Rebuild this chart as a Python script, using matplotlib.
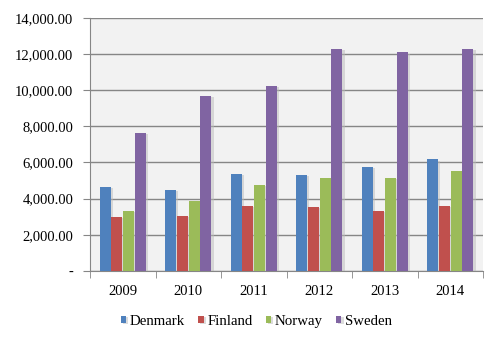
import numpy as np
import matplotlib
matplotlib.use('Agg')
import matplotlib.pyplot as plt
from matplotlib.ticker import FuncFormatter, FixedLocator
import matplotlib.patheffects as pe

YEARS = ['2009', '2010', '2011', '2012', '2013', '2014']
COUNTRIES = ['Denmark', 'Finland', 'Norway', 'Sweden']
DENMARK = [4660, 4480, 5380, 5310, 5770, 6180]
FINLAND = [3000, 3040, 3600, 3540, 3320, 3600]
NORWAY = [3320, 3870, 4770, 5150, 5150, 5530]
SWEDEN = [7640, 9680, 10240, 12290, 12080, 12290]
COLORS = ['#4F81BD', '#C0504D', '#9BBB59', '#8064A2']


def fmt(v, pos):
    if v == 0:
        return '-'
    return '{:,.2f}'.format(v)


def main():
    plt.rcParams['font.family'] = ['Liberation Serif', 'DejaVu Serif']
    fig = plt.figure(figsize=(5.0, 3.42), dpi=100)
    ax = fig.add_axes([0.18, 0.208, 0.786, 0.74])
    ax.set_facecolor('#f2f2f2')

    x = np.arange(len(YEARS))
    width = 0.168
    step = 0.18
    series = [DENMARK, FINLAND, NORWAY, SWEDEN]
    shadow = [pe.SimplePatchShadow(offset=(1.5, -1), shadow_rgbFace='#bbbbbb', alpha=0.5), pe.Normal()]
    for i, vals in enumerate(series):
        bars = ax.bar(x + (i - 1.5) * step, vals, width, color=COLORS[i], label=COUNTRIES[i], zorder=3)
        for b in bars:
            b.set_path_effects(shadow)

    ax.set_xlim(-0.5, len(YEARS) - 0.5)
    ax.set_ylim(0, 14000)
    ax.set_yticks(np.arange(0, 14001, 2000))
    ax.yaxis.set_major_formatter(FuncFormatter(fmt))
    ax.yaxis.grid(True, color='#868686', linewidth=1.0, zorder=0)

    ax.set_xticks(x)
    ax.set_xticklabels(YEARS)
    ax.xaxis.set_minor_locator(FixedLocator(np.arange(-0.5, len(YEARS), 1)))
    ax.tick_params(axis='x', which='major', length=0, labelsize=10.5, pad=10)
    ax.tick_params(axis='x', which='minor', length=5, color='#868686', direction='out')
    ax.tick_params(axis='y', length=5, color='#868686', labelsize=10.5, pad=7)

    for s in ['top', 'right']:
        ax.spines[s].set_visible(False)
    for s in ['left', 'bottom']:
        ax.spines[s].set_color('#868686')

    fig.legend(loc='center', bbox_to_anchor=(0.513, 0.061), ncol=4, frameon=False,
               fontsize=10.7, handlelength=0.35, handleheight=0.35, handletextpad=0.25,
               columnspacing=0.9)

    fig.savefig('out.png', dpi=100)


if __name__ == '__main__':
    main()
